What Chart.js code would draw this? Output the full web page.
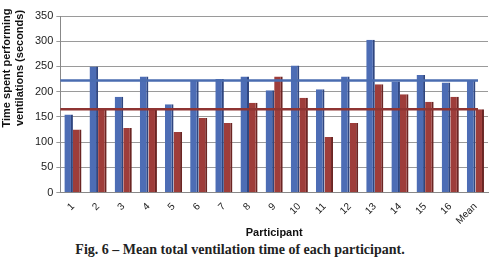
<!DOCTYPE html>
<html><head><meta charset="utf-8">
<script src="https://cdn.jsdelivr.net/npm/chart.js@4/dist/chart.umd.min.js"></script>
<style>
html,body{margin:0;padding:0;background:#fff;width:493px;height:266px;overflow:hidden}
#wrap{position:absolute;left:0;top:0;width:493px;height:240px}
#cap{position:absolute;left:0;top:242px;width:480px;text-align:center;font-family:"Liberation Serif","DejaVu Serif",serif;font-weight:bold;font-size:14px;color:#222}
</style></head><body>
<div id="wrap"><canvas id="c"></canvas></div>
<div id="cap">Fig. 6 – Mean total ventilation time of each participant.</div>
<script>
const categories = ['1','2','3','4','5','6','7','8','9','10','11','12','13','14','15','16','Mean'];
const seriesBlue = [155,250,190,230,175,222,225,230,203,252,205,230,303,220,233,218,222];
const seriesRed  = [125,167,128,165,120,148,138,178,230,188,110,138,215,195,180,190,165];
const meanBlue = 222;
const meanRed = 165;
const yTicks = [0,50,100,150,200,250,300,350];
const yTitle = ['Time spent performing','ventilations (seconds)'];

const meanLines = {
  id:'meanLines',
  afterDatasetsDraw(chart){
    const {ctx, chartArea, scales:{y}} = chart;
    [[meanBlue,'#4a6cb0'],[meanRed,'#8e3432']].forEach(([v,c])=>{
      const py = y.getPixelForValue(v);
      ctx.save();
      ctx.strokeStyle=c; ctx.lineWidth=2.5;
      ctx.beginPath(); ctx.moveTo(chartArea.left, py); ctx.lineTo(chartArea.right-10, py); ctx.stroke();
      ctx.restore();
    });
  }
};
const yTitlePlugin = {
  id:'yTitlePlugin',
  afterDraw(chart){
    const ctx = chart.ctx;
    ctx.save();
    ctx.translate(0, 68);
    ctx.rotate(-Math.PI/2);
    ctx.fillStyle='#111';
    ctx.font='bold 11px "Liberation Sans"';
    ctx.textAlign='center'; ctx.textBaseline='middle';
    ctx.fillText(yTitle[0], 0, 7);
    ctx.fillText(yTitle[1], 0, 20);
    ctx.restore();
  }
};

new Chart(document.getElementById('c'), {
  type:'bar',
  data:{labels:categories, datasets:[
    {data:seriesBlue, backgroundColor:'#4d6db5', borderColor:'#2f4680', borderWidth:{right:2}, categoryPercentage:0.68, barPercentage:1},
    {data:seriesRed, backgroundColor:'#9e3d3a', borderColor:'#6b2523', borderWidth:{right:2}, categoryPercentage:0.68, barPercentage:1}
  ]},
  options:{
    responsive:true, maintainAspectRatio:false, animation:false,
    layout:{padding:{left:32,right:5,top:16,bottom:0}},
    plugins:{legend:{display:false}, tooltip:{enabled:false}},
    scales:{
      x:{grid:{display:false, drawOnChartArea:false}, border:{color:'#888'},
         ticks:{color:'#222', font:{family:'Liberation Sans', size:10}, maxRotation:45, minRotation:45, padding:0},
         title:{display:true, text:'Participant', color:'#111', font:{family:'Liberation Sans', size:11, weight:'bold'}, padding:{top:0,bottom:0}}},
      y:{min:0, max:350, afterBuildTicks(s){s.ticks=yTicks.map(v=>({value:v}));},
         grid:{color:'#9a9a9a', lineWidth:1, tickLength:4}, border:{color:'#888'},
         ticks:{color:'#222', font:{family:'Liberation Sans', size:11}, padding:3}}
    }
  },
  plugins:[meanLines, yTitlePlugin]
});
</script>
</body></html>
